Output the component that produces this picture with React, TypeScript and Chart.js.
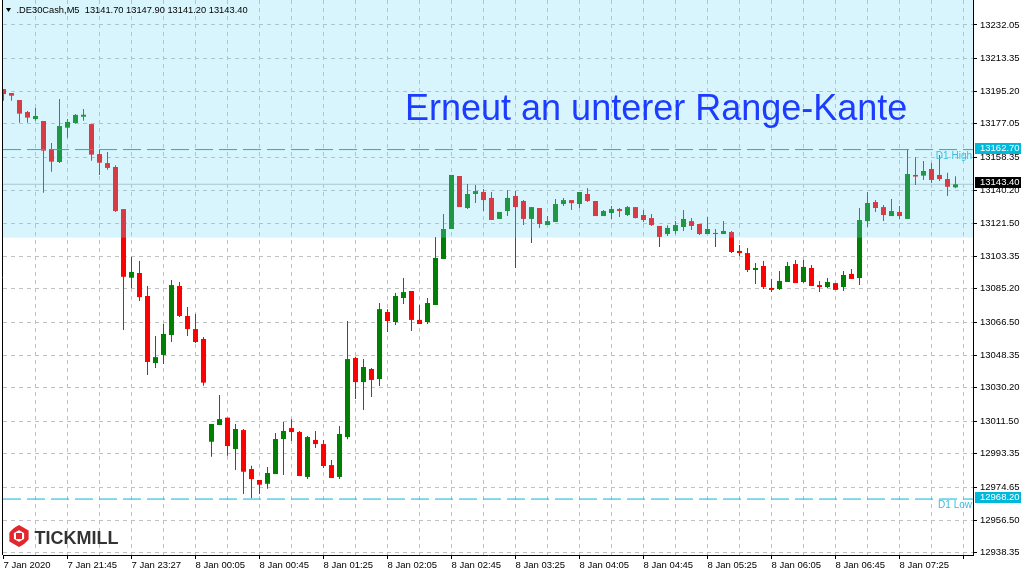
import React, { useEffect, useRef } from 'react';
import { Chart, registerables } from 'chart.js';

Chart.register(...registerables);

// ---- Data (M5 candles, .DE30Cash) ----
const opens = [
  13196.4, 13194.2, 13190.3, 13183.6, 13179.7, 13178.6, 13163.0, 13155.8, 13174.9, 13177.5,
  13181.0, 13176.9, 13160.2, 13155.2, 13153.0, 13129.6, 13091.4, 13094.0, 13081.2, 13043.9,
  13048.4, 13059.5, 13086.8, 13070.1, 13062.8, 13057.3, 13000.1, 13009.4, 13013.5, 12996.0,
  13006.6, 12984.9, 12978.8, 12976.7, 12982.1, 13001.6, 13007.7, 13005.5, 12980.5, 13001.1,
  12998.8, 12987.1, 12980.5, 13002.7, 13046.7, 13033.3, 13040.6, 13035.0, 13072.3, 13066.7,
  13080.1, 13084.0, 13067.9, 13066.7, 13076.2, 13101.8, 13118.5, 13148.0, 13130.2, 13138.0,
  13139.1, 13135.8, 13124.1, 13128.5, 13136.9, 13134.1, 13124.1, 13130.2, 13120.7, 13122.4,
  13132.4, 13134.6, 13132.4, 13138.0, 13134.1, 13125.7, 13127.4, 13129.6, 13126.3, 13130.7,
  13126.3, 13124.6, 13120.2, 13115.7, 13117.4, 13119.6, 13122.9, 13121.3, 13115.7, 13116.3,
  13115.7, 13116.8, 13106.3, 13105.1, 13095.7, 13097.9, 13085.7, 13085.1, 13089.0, 13099.0,
  13089.0, 13096.8, 13087.3, 13086.2, 13088.4, 13086.2, 13093.5, 13091.2, 13122.9, 13133.5,
  13130.7, 13125.7, 13128.0, 13124.1, 13148.6, 13148.2, 13151.9, 13148.6, 13146.3, 13141.7,
];
const highs = [
  13196.4, 13194.2, 13190.3, 13184.2, 13185.9, 13178.6, 13166.4, 13190.9, 13179.7, 13182.5,
  13185.3, 13176.9, 13162.5, 13161.4, 13154.0, 13129.6, 13103.1, 13100.7, 13086.8, 13058.9,
  13065.6, 13090.1, 13089.0, 13075.1, 13071.2, 13058.4, 13010.0, 13026.1, 13013.5, 13010.0,
  13007.2, 12986.8, 12978.8, 12986.0, 13004.9, 13011.1, 13012.6, 13006.1, 13003.3, 13006.1,
  13001.1, 12989.9, 13008.8, 13067.3, 13047.4, 13046.1, 13041.1, 13077.3, 13073.9, 13082.9,
  13091.2, 13084.0, 13076.2, 13080.1, 13114.0, 13126.8, 13148.6, 13148.0, 13143.5, 13143.0,
  13140.8, 13139.1, 13128.0, 13140.2, 13139.6, 13134.6, 13130.7, 13130.2, 13125.7, 13135.2,
  13135.8, 13134.6, 13139.1, 13141.3, 13134.1, 13129.1, 13131.3, 13130.2, 13131.3, 13130.7,
  13129.1, 13126.8, 13120.2, 13120.6, 13122.9, 13129.1, 13124.6, 13121.3, 13125.2, 13118.5,
  13122.9, 13117.4, 13109.6, 13107.9, 13099.6, 13100.7, 13090.7, 13095.1, 13100.1, 13101.2,
  13101.2, 13098.5, 13089.6, 13091.2, 13088.4, 13095.1, 13096.2, 13130.2, 13139.1, 13134.6,
  13131.9, 13135.2, 13131.3, 13163.0, 13158.4, 13156.3, 13155.2, 13159.7, 13149.8, 13147.9,
];
const lows = [
  13189.9, 13189.9, 13177.7, 13177.7, 13178.8, 13138.7, 13150.4, 13155.2, 13169.3, 13177.1,
  13178.8, 13156.5, 13148.6, 13151.5, 13128.0, 13062.3, 13085.5, 13078.4, 13037.2, 13041.1,
  13043.4, 13055.6, 13069.5, 13058.9, 13055.0, 13031.3, 12991.8, 13009.4, 12992.3, 12984.4,
  12971.0, 12968.6, 12971.0, 12973.9, 12982.1, 12981.6, 13000.5, 12981.0, 12979.3, 12996.6,
  12985.5, 12979.9, 12979.3, 13001.5, 13023.9, 13017.8, 13025.0, 13031.1, 13061.2, 13065.1,
  13076.8, 13061.7, 13065.6, 13065.6, 13076.2, 13101.8, 13118.5, 13130.7, 13129.6, 13133.0,
  13128.5, 13123.5, 13124.1, 13125.7, 13096.8, 13120.7, 13110.7, 13119.1, 13120.7, 13122.4,
  13131.3, 13129.1, 13130.2, 13133.5, 13125.7, 13125.7, 13124.1, 13125.2, 13125.7, 13124.3,
  13122.4, 13120.2, 13108.5, 13114.6, 13115.7, 13117.4, 13117.9, 13115.1, 13115.7, 13108.5,
  13115.7, 13105.1, 13103.5, 13094.6, 13087.9, 13085.1, 13083.4, 13084.6, 13089.0, 13088.4,
  13088.4, 13086.8, 13083.4, 13085.7, 13084.6, 13084.0, 13090.7, 13087.3, 13119.6, 13128.0,
  13122.9, 13125.7, 13124.1, 13124.1, 13143.0, 13145.8, 13144.1, 13145.2, 13136.9, 13141.2,
];
const closes = [
  13193.6, 13192.7, 13182.7, 13180.5, 13181.4, 13162.1, 13156.0, 13175.8, 13178.1, 13182.0,
  13182.1, 13159.9, 13155.4, 13152.5, 13128.5, 13091.9, 13094.6, 13080.6, 13044.5, 13047.2,
  13060.1, 13087.3, 13070.1, 13062.8, 13055.6, 13033.0, 13010.0, 13012.7, 12997.7, 13007.2,
  12983.4, 12979.3, 12976.2, 12982.7, 13001.6, 13006.1, 13005.5, 12981.0, 13002.7, 12998.8,
  12986.6, 12979.9, 13004.4, 13046.1, 13033.3, 13041.7, 13034.5, 13073.9, 13067.3, 13081.2,
  13083.4, 13067.9, 13065.6, 13077.3, 13102.4, 13118.5, 13148.6, 13130.7, 13138.0, 13139.6,
  13134.6, 13123.5, 13128.0, 13135.8, 13130.7, 13124.1, 13130.7, 13121.3, 13122.9, 13132.4,
  13134.6, 13132.9, 13139.1, 13134.1, 13125.7, 13128.5, 13129.6, 13128.5, 13130.7, 13124.6,
  13123.5, 13120.7, 13114.1, 13119.1, 13120.7, 13124.1, 13120.2, 13115.7, 13118.5, 13115.7,
  13117.4, 13105.7, 13105.1, 13095.7, 13096.8, 13086.2, 13084.6, 13089.6, 13097.9, 13088.4,
  13097.4, 13086.8, 13086.2, 13089.0, 13084.6, 13092.9, 13090.7, 13123.5, 13133.0, 13130.2,
  13126.3, 13128.5, 13125.7, 13149.1, 13147.7, 13150.8, 13145.8, 13146.3, 13142.0, 13143.4,
];

const xTickLabels = [
  '7 Jan 2020', '7 Jan 21:45', '7 Jan 23:27', '8 Jan 00:05', '8 Jan 00:45', '8 Jan 01:25',
  '8 Jan 02:05', '8 Jan 02:45', '8 Jan 03:25', '8 Jan 04:05', '8 Jan 04:45', '8 Jan 05:25',
  '8 Jan 06:05', '8 Jan 06:45', '8 Jan 07:25',
];
const yTickValues = [
  13232.05, 13213.35, 13195.2, 13177.05, 13158.35, 13140.2, 13121.5, 13103.35, 13085.2,
  13066.5, 13048.35, 13030.2, 13011.5, 12993.35, 12974.65, 12956.5, 12938.35,
];

const symbolName = '.DE30Cash,M5';
const titleText = 'Erneut an unterer Range-Kante';
const d1High = 13162.7;
const d1Low = 12968.2;
const zoneTop = 13300;
const zoneBottom = 13113.6;

const yMin = 12937.06;
const yMax = 13245.96;
const xMin = -0.0625;
const xMax = 121.1875;

const BULL = '#008000';
const BEAR = '#ff0000';
const CYAN = '#00b8dc';
const FONT = '"Liberation Sans", Arial, sans-serif';

const decorPlugin = {
  id: 'decor',
  beforeDatasetsDraw(chart: any) {
    const { ctx, chartArea } = chart;
    ctx.save();
    ctx.strokeStyle = '#000';
    ctx.lineWidth = 1;
    ctx.beginPath();
    ctx.moveTo(chartArea.left - 0.5, 0);
    ctx.lineTo(chartArea.left - 0.5, chartArea.bottom);
    ctx.stroke();
    ctx.restore();
  },
  afterDatasetsDraw(chart: any) {
    const { ctx, chartArea, scales } = chart;
    const n = closes.length - 1;
    ctx.save();
    // header
    ctx.fillStyle = '#000';
    ctx.beginPath();
    ctx.moveTo(6, 8);
    ctx.lineTo(11, 8);
    ctx.lineTo(8.5, 12);
    ctx.closePath();
    ctx.fill();
    ctx.font = `9.3px ${FONT}`;
    ctx.textBaseline = 'middle';
    ctx.textAlign = 'left';
    const hdr = `${symbolName}  ${opens[n].toFixed(2)} ${highs[n].toFixed(2)} ${lows[n].toFixed(2)} ${closes[n].toFixed(2)}`;
    ctx.fillText(hdr, 16.5, 10.5);

    // title
    ctx.font = `36px ${FONT}`;
    ctx.fillStyle = '#1c3cff';
    ctx.textBaseline = 'alphabetic';
    ctx.fillText(titleText, 405, 119.5);

    // D1 labels
    ctx.font = `10px ${FONT}`;
    ctx.fillStyle = '#38bedc';
    ctx.textAlign = 'right';
    ctx.textBaseline = 'middle';
    ctx.fillText('D1 High', chartArea.right - 1, scales.y.getPixelForValue(d1High) + 6.5);
    ctx.fillText('D1 Low', chartArea.right - 1, scales.y.getPixelForValue(d1Low) + 6.5);

    // Tickmill logo
    const cx = 19, cy = 536, r = 8.5;
    ctx.strokeStyle = '#e3262c';
    ctx.lineWidth = 4.5;
    ctx.beginPath();
    for (let k = 0; k < 6; k++) {
      const a = Math.PI / 6 + (k * Math.PI) / 3;
      const px = cx + r * Math.cos(a);
      const py = cy + r * Math.sin(a);
      if (k === 0) ctx.moveTo(px, py); else ctx.lineTo(px, py);
    }
    ctx.closePath();
    ctx.stroke();
    ctx.strokeStyle = '#ffffff';
    ctx.lineWidth = 2.5;
    ctx.beginPath();
    ctx.moveTo(cx - 12, cy - 3);
    ctx.lineTo(cx - 3, cy - 12);
    ctx.moveTo(cx + 3, cy + 12);
    ctx.lineTo(cx + 12, cy + 3);
    ctx.stroke();
    ctx.fillStyle = '#e3262c';
    ctx.fillRect(cx - 3, cy - 3, 6, 6);
    ctx.font = `bold 18px ${FONT}`;
    ctx.fillStyle = '#333333';
    ctx.textAlign = 'left';
    ctx.textBaseline = 'alphabetic';
    ctx.fillText('TICKMILL', 34.5, 543.5);
    ctx.restore();
  },
  afterDraw(chart: any) {
    const { ctx, chartArea, scales } = chart;
    const n = closes.length - 1;
    const boxes = [
      { v: d1High, bg: CYAN },
      { v: closes[n], bg: '#000000' },
      { v: d1Low, bg: CYAN },
    ];
    ctx.save();
    ctx.font = `9.5px ${FONT}`;
    ctx.textAlign = 'left';
    ctx.textBaseline = 'middle';
    boxes.forEach((b) => {
      const y = scales.y.getPixelForValue(b.v);
      ctx.fillStyle = b.bg;
      ctx.fillRect(chartArea.right + 2, Math.round(y - 7), 46, 11);
      ctx.fillStyle = '#ffffff';
      ctx.fillText(b.v.toFixed(2), chartArea.right + 7, Math.round(y - 7) + 5.5);
    });
    ctx.restore();
  },
};

export default function App() {
  const ref = useRef<HTMLCanvasElement>(null);
  useEffect(() => {
    document.body.style.margin = '0';
    const idx = opens.map((_, i) => i);
    const colors = idx.map((i) => (closes[i] >= opens[i] ? BULL : BEAR));
    const n = closes.length - 1;
    const chart = new Chart(ref.current as HTMLCanvasElement, {
      type: 'bar',
      data: {
        datasets: [
          {
            type: 'line',
            label: 'D1 High',
            data: [{ x: xMin, y: d1High }, { x: xMax, y: d1High }],
            borderColor: CYAN,
            borderWidth: 1,
            borderDash: [18, 6],
            pointRadius: 0,
            fill: false,
            order: 0,
          } as any,
          {
            type: 'line',
            label: 'D1 Low',
            data: [{ x: xMin, y: d1Low }, { x: xMax, y: d1Low }],
            borderColor: CYAN,
            borderWidth: 1,
            borderDash: [18, 6],
            pointRadius: 0,
            fill: false,
            order: 0,
          } as any,
          {
            type: 'line',
            label: 'Range',
            data: [{ x: xMin - 2, y: zoneTop }, { x: xMax + 2, y: zoneTop }],
            borderColor: 'transparent',
            borderWidth: 1,
            backgroundColor: 'rgba(112,217,247,0.27)',
            pointRadius: 0,
            fill: { value: zoneBottom },
            order: 1,
          } as any,
          {
            type: 'bar',
            label: 'bodies',
            data: idx.map((i) => ({ x: i, y: [opens[i], closes[i]] })),
            backgroundColor: colors,
            borderWidth: 0,
            barThickness: 5,
            grouped: false,
            minBarLength: 1,
            inflateAmount: 0,
            order: 2,
          } as any,
          {
            type: 'bar',
            label: 'wicks',
            data: idx.map((i) => ({ x: i, y: [lows[i], highs[i]] })),
            backgroundColor: colors,
            borderWidth: 0,
            barThickness: 1,
            grouped: false,
            inflateAmount: 0,
            order: 3,
          } as any,
          {
            type: 'line',
            label: 'Bid',
            data: [{ x: xMin, y: closes[n] }, { x: xMax, y: closes[n] }],
            borderColor: '#c0c0c0',
            borderWidth: 1,
            pointRadius: 0,
            fill: false,
            order: 5,
          } as any,
        ],
      },
      options: {
        responsive: false,
        animation: false,
        events: [],
        layout: { padding: { left: 3, top: 0, right: 0, bottom: 0 } },
        plugins: {
          legend: { display: false },
          tooltip: { enabled: false },
          title: { display: false },
        },
        scales: {
          x: {
            type: 'linear',
            min: xMin,
            max: xMax,
            offset: false,
            afterBuildTicks: (s: any) => {
              const t = [];
              for (let v = 0; v <= 120; v += 4) t.push({ value: v });
              s.ticks = t;
            },
            afterFit: (s: any) => {
              s.height = 21;
              s.paddingLeft = 0;
              s.paddingRight = 0;
            },
            grid: {
              offset: false,
              color: (c: any) => (c.tick && c.tick.value === 0 ? 'transparent' : '#c0c0c0'),
              lineWidth: 1,
              drawTicks: true,
              tickLength: 4,
              tickColor: (c: any) => (c.tick && c.tick.value % 8 === 0 ? '#000000' : 'transparent'),
            },
            border: { display: true, color: '#000000', width: 1, dash: [4, 4] },
            ticks: {
              autoSkip: false,
              maxRotation: 0,
              minRotation: 0,
              align: 'start',
              padding: 1,
              color: '#000000',
              font: { family: FONT, size: 9.5 },
              callback: (v: any) => {
                const val = Number(v);
                if (val % 8 !== 0) return '';
                return xTickLabels[val / 8] ?? '';
              },
            },
          },
          y: {
            type: 'linear',
            position: 'right',
            min: yMin,
            max: yMax,
            beginAtZero: false,
            afterBuildTicks: (s: any) => {
              s.ticks = yTickValues.map((v) => ({ value: v }));
            },
            afterFit: (s: any) => {
              s.width = 51;
              s.paddingTop = 0;
              s.paddingBottom = 0;
            },
            grid: {
              color: '#c0c0c0',
              lineWidth: 1,
              drawTicks: true,
              tickLength: 4,
              tickColor: '#000000',
            },
            border: { display: true, color: '#000000', width: 1, dash: [4, 4] },
            ticks: {
              autoSkip: false,
              padding: 3,
              color: '#000000',
              font: { family: FONT, size: 9.5 },
              callback: (v: any) => Number(v).toFixed(2),
            },
          },
        },
      } as any,
      plugins: [decorPlugin],
    });
    return () => chart.destroy();
  }, []);
  return (
    <div style={{ position: 'relative', width: 1024, height: 576 }}>
      <canvas ref={ref} width={1024} height={576} style={{ display: 'block' }} />
    </div>
  );
}
